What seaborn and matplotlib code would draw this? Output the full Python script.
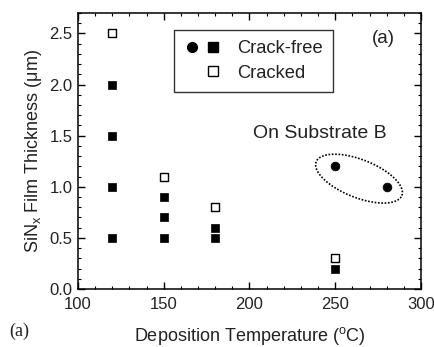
import numpy as np
import pandas as pd
import matplotlib
matplotlib.use("Agg")
import matplotlib.pyplot as plt
import seaborn as sns
from matplotlib.lines import Line2D
from matplotlib.legend_handler import HandlerTuple
from matplotlib.ticker import MultipleLocator

# dados
temp_ok = [120, 120, 120, 120, 150, 150, 150, 180, 180, 250]
esp_ok = [2.0, 1.5, 1.0, 0.5, 0.9, 0.7, 0.5, 0.6, 0.5, 0.2]
temp_trinca = [120, 150, 180, 250]
esp_trinca = [2.5, 1.1, 0.8, 0.3]
temp_subB = [250, 280]
esp_subB = [1.2, 1.0]

sns.set_style("ticks")
plt.rcParams['font.family'] = ['Liberation Sans', 'DejaVu Sans']
plt.rcParams['mathtext.fontset'] = 'custom'
plt.rcParams['mathtext.rm'] = 'Liberation Sans'
plt.rcParams['mathtext.it'] = 'Liberation Sans'

fig = plt.figure(figsize=(4.35, 3.47), dpi=100)
ax = fig.add_axes([0.179, 0.167, 0.789, 0.7955])

df_ok = pd.DataFrame({'T': temp_ok, 'h': esp_ok})
df_tr = pd.DataFrame({'T': temp_trinca, 'h': esp_trinca})
df_b = pd.DataFrame({'T': temp_subB, 'h': esp_subB})

sns.scatterplot(data=df_ok, x='T', y='h', marker='s', s=36, color='black',
                edgecolor='black', linewidth=0.5, ax=ax, zorder=3)
sns.scatterplot(data=df_tr, x='T', y='h', marker='s', s=28, facecolor='white',
                edgecolor='black', linewidth=1.0, ax=ax, zorder=3)
sns.scatterplot(data=df_b, x='T', y='h', marker='o', s=40, color='black',
                edgecolor='black', linewidth=0.5, ax=ax, zorder=3)

ax.set_xlim(100, 300)
ax.set_ylim(0, 2.7)
ax.xaxis.set_major_locator(MultipleLocator(50))
ax.xaxis.set_minor_locator(MultipleLocator(10))
ax.yaxis.set_major_locator(MultipleLocator(0.5))
ax.yaxis.set_minor_locator(MultipleLocator(0.1))
ax.tick_params(which='both', direction='in', top=True, right=True,
               labelsize=12, color='black', labelcolor='#222222')
ax.tick_params(which='major', length=5, width=1)
ax.tick_params(axis='x', which='major', pad=6)
ax.tick_params(axis='y', which='major', pad=4)
ax.tick_params(which='minor', length=2.5, width=0.8)
for s in ax.spines.values():
    s.set_linewidth(1.1)
    s.set_color('black')

ax.set_xlabel(r'Deposition Temperature ($^{\rm o}$C)', fontsize=13, color='#222222', labelpad=9)
ax.set_ylabel(r'SiN$_{\rm x}$ Film Thickness ($\mu$m)', fontsize=13, color='#222222', labelpad=4)

# elipse pontilhada em torno dos pontos do substrato B (em pixels -> dados)
px_x = 343 / 200.0
px_y = 276 / 2.7
cx, cy = np.mean(temp_subB), np.mean(esp_subB) - 0.02
ang = np.deg2rad(-21.5)
t = np.linspace(0, 2 * np.pi, 300)
a, b = 46, 19
dx = a * np.cos(t) * np.cos(ang) - b * np.sin(t) * np.sin(ang)
dy = a * np.cos(t) * np.sin(ang) + b * np.sin(t) * np.cos(ang)
ax.plot(cx - 2 / px_x + dx / px_x, cy + dy / px_y, color='black', linestyle=(0, (1, 1)), linewidth=1.2)

ax.text(241, 1.52, 'On Substrate B', fontsize=14, color='#222222', ha='center', va='center')
ax.text(278, 2.45, '(a)', fontsize=13.5, color='#222222', ha='center', va='center')
fig.text(0.044, 0.045, '(a)', fontsize=13, family='Liberation Serif', color='#222222', ha='center', va='center')

h_circ = Line2D([], [], marker='o', color='black', linestyle='none', markersize=7)
h_sq = Line2D([], [], marker='s', color='black', linestyle='none', markersize=7)
h_empty = Line2D([], [], linestyle='none')
h_open = Line2D([], [], marker='s', markerfacecolor='white', markeredgecolor='black',
                linestyle='none', markersize=6.5, markeredgewidth=1.0)
leg = ax.legend([(h_circ, h_sq), (h_empty, h_open)],
                ['Crack-free', 'Cracked'],
                handler_map={tuple: HandlerTuple(ndivide=None, pad=0.3)},
                loc='upper left', bbox_to_anchor=(0.28, 0.938), frameon=True,
                fancybox=False, edgecolor='black', fontsize=13.2, handlelength=2.0,
                handletextpad=0.9, borderpad=0.55, labelspacing=0.4, borderaxespad=0)
leg.get_frame().set_linewidth(1.0)
for txt in leg.get_texts():
    txt.set_color('#222222')

fig.savefig('out.png', dpi=100, facecolor='white')
